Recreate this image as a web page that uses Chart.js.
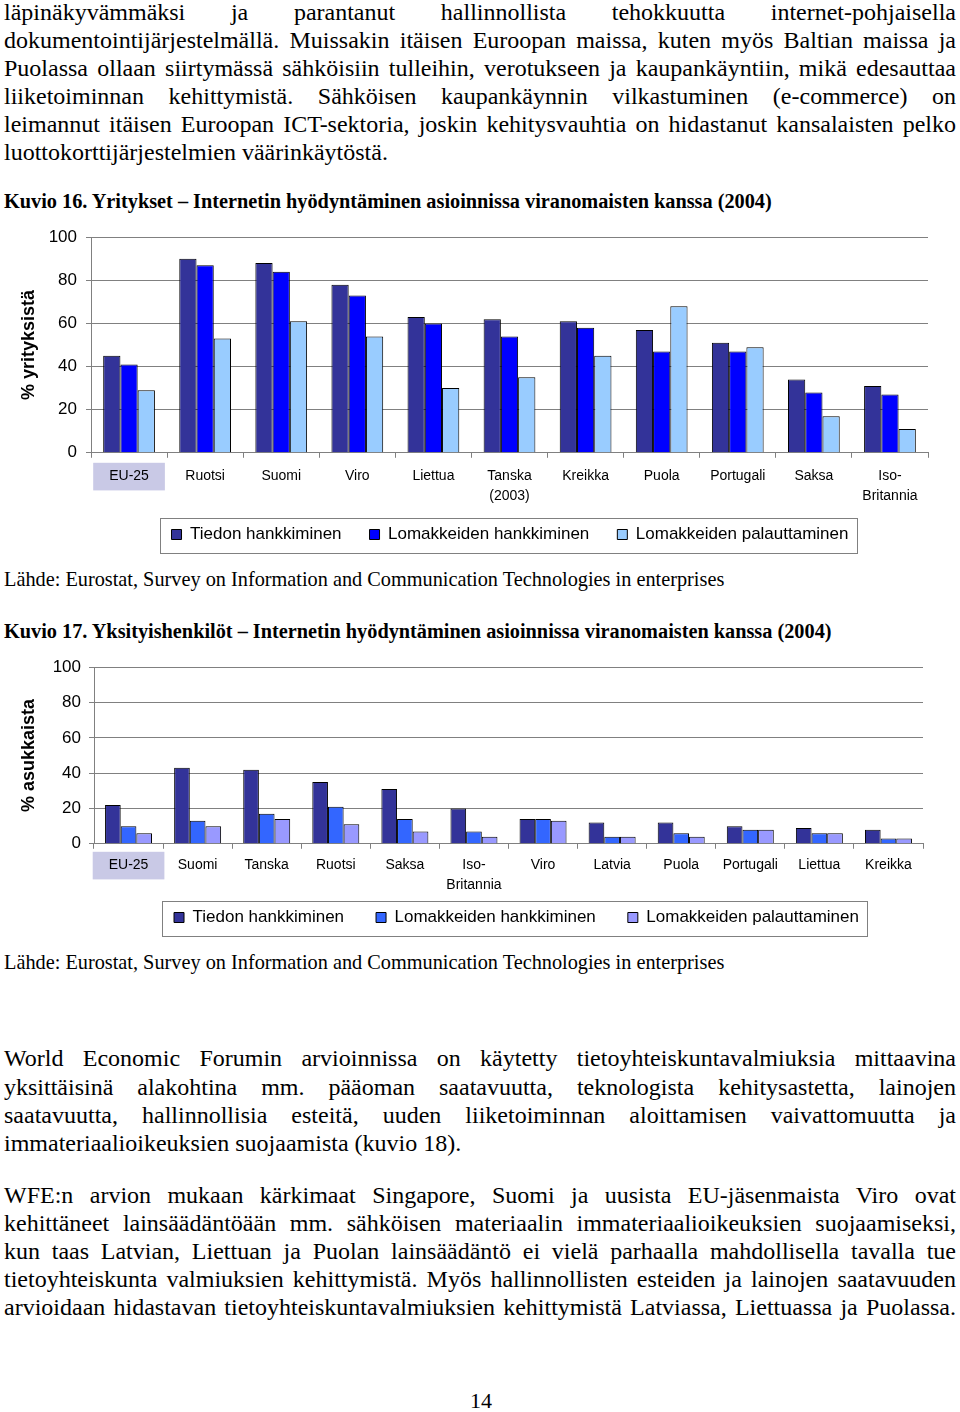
<!DOCTYPE html>
<html>
<head>
<meta charset="utf-8">
<script src="https://cdn.jsdelivr.net/npm/chart.js@4"></script>
<style>
  html, body { margin: 0; padding: 0; background: #fff; }
  #page { position: relative; width: 960px; height: 1412px; overflow: hidden; }
  .ln { position: absolute; left: 4px; width: 952px; height: 28px; line-height: 28px;
        font-family: "Liberation Serif", serif; font-size: 24px; color: #000;
        text-align: justify; text-align-last: justify; }
  .ln.last { text-align-last: left; }
  .cap { position: absolute; left: 4px; line-height: 24px; font-family: "Liberation Serif", serif;
         font-size: 20.3px; font-weight: bold; white-space: nowrap; }
  .src { position: absolute; left: 4px; line-height: 24px; font-family: "Liberation Serif", serif;
         font-size: 20.3px; white-space: nowrap; }
  .pnum { position: absolute; left: 466px; width: 30px; text-align: center; line-height: 28px;
          font-family: "Liberation Serif", serif; font-size: 22px; }
  .chartbox { position: absolute; left: 0; width: 960px; }
</style>
</head>
<body>
<div id="page">
  <div class="ln" style="top:-2px">läpinäkyvämmäksi ja parantanut hallinnollista tehokkuutta internet-pohjaisella</div>
  <div class="ln" style="top:26px">dokumentointijärjestelmällä. Muissakin itäisen Euroopan maissa, kuten myös Baltian maissa ja</div>
  <div class="ln" style="top:54px">Puolassa ollaan siirtymässä sähköisiin tulleihin, verotukseen ja kaupankäyntiin, mikä edesauttaa</div>
  <div class="ln" style="top:82px">liiketoiminnan kehittymistä. Sähköisen kaupankäynnin vilkastuminen (e-commerce) on</div>
  <div class="ln" style="top:110px">leimannut itäisen Euroopan ICT-sektoria, joskin kehitysvauhtia on hidastanut kansalaisten pelko</div>
  <div class="ln last" style="top:138px">luottokorttijärjestelmien väärinkäytöstä.</div>

  <div class="cap" style="top:189px">Kuvio 16. Yritykset – Internetin hyödyntäminen asioinnissa viranomaisten kanssa (2004)</div>
  <div class="chartbox" style="top:218px;height:345px"><canvas id="chart1"></canvas></div>
  <div class="src" style="top:567px">Lähde: Eurostat, Survey on Information and Communication Technologies in enterprises</div>

  <div class="cap" style="top:619px">Kuvio 17. Yksityishenkilöt – Internetin hyödyntäminen asioinnissa viranomaisten kanssa (2004)</div>
  <div class="chartbox" style="top:649px;height:295px"><canvas id="chart2"></canvas></div>
  <div class="src" style="top:950px">Lähde: Eurostat, Survey on Information and Communication Technologies in enterprises</div>

  <div class="ln" style="top:1044px">World Economic Forumin arvioinnissa on käytetty tietoyhteiskuntavalmiuksia mittaavina</div>
  <div class="ln" style="top:1073px">yksittäisinä alakohtina mm. pääoman saatavuutta, teknologista kehitysastetta, lainojen</div>
  <div class="ln" style="top:1101px">saatavuutta, hallinnollisia esteitä, uuden liiketoiminnan aloittamisen vaivattomuutta ja</div>
  <div class="ln last" style="top:1129px">immateriaalioikeuksien suojaamista (kuvio 18).</div>

  <div class="ln" style="top:1181px">WFE:n arvion mukaan kärkimaat Singapore, Suomi ja uusista EU-jäsenmaista Viro ovat</div>
  <div class="ln" style="top:1209px">kehittäneet lainsäädäntöään mm. sähköisen materiaalin immateriaalioikeuksien suojaamiseksi,</div>
  <div class="ln" style="top:1237px">kun taas Latvian, Liettuan ja Puolan lainsäädäntö ei vielä parhaalla mahdollisella tavalla tue</div>
  <div class="ln" style="top:1265px">tietoyhteiskunta valmiuksien kehittymistä. Myös hallinnollisten esteiden ja lainojen saatavuuden</div>
  <div class="ln" style="top:1293px">arvioidaan hidastavan tietoyhteiskuntavalmiuksien kehittymistä Latviassa, Liettuassa ja Puolassa.</div>

  <div class="pnum" style="top:1387px">14</div>
</div>

<script>
// Kuvio 16 - yritykset
const maat16 = ['EU-25', 'Ruotsi', 'Suomi', 'Viro', 'Liettua', ['Tanska', '(2003)'], 'Kreikka', 'Puola', 'Portugali', 'Saksa', ['Iso-', 'Britannia']];
const tiedonHankkiminen16 = [45, 90, 88, 78, 63, 62, 61, 57, 51, 34, 31];
const lomakkeidenHankkiminen16 = [41, 87, 84, 73, 60, 54, 58, 47, 47, 28, 27];
const lomakkeidenPalauttaminen16 = [29, 53, 61, 54, 30, 35, 45, 68, 49, 17, 11];

// Kuvio 17 - yksityishenkilöt
const maat17 = ['EU-25', 'Suomi', 'Tanska', 'Ruotsi', 'Saksa', ['Iso-', 'Britannia'], 'Viro', 'Latvia', 'Puola', 'Portugali', 'Liettua', 'Kreikka'];
const tiedonHankkiminen17 = [22, 43, 42, 35, 31, 20, 14, 12, 12, 10, 9, 8];
const lomakkeidenHankkiminen17 = [10, 13, 17, 21, 14, 7, 14, 4, 6, 8, 6, 3];
const lomakkeidenPalauttaminen17 = [6, 10, 14, 11, 7, 4, 13, 4, 4, 8, 6, 3];

const sarjat = ['Tiedon hankkiminen', 'Lomakkeiden hankkiminen', 'Lomakkeiden palauttaminen'];
const yTicks = [0, 20, 40, 60, 80, 100];

// siirretään legendaa sivuttain ja piirretään laatikko sen ympärille
const legendBox = {
  id: 'legendBox',
  afterUpdate(chart, args, opts) {
    const lg = chart.legend;
    if (!lg || !opts.dx) return;
    lg.left += opts.dx;
    lg.right += opts.dx;
    lg.legendHitBoxes.forEach(h => { h.left += opts.dx; });
  },
  afterDraw(chart) {
    const hb = chart.legend && chart.legend.legendHitBoxes;
    if (!hb || !hb.length) return;
    const ctx = chart.ctx;
    const l = Math.min(...hb.map(b => b.left)) - 12;
    const r = Math.max(...hb.map(b => b.left + b.width)) + 8;
    const c = hb[0].top + hb[0].height / 2;
    ctx.save();
    ctx.strokeStyle = '#808080';
    ctx.lineWidth = 1;
    ctx.strokeRect(Math.round(l) + 0.5, Math.round(c - 17) + 0.5, Math.round(r - l), 35);
    ctx.restore();
  }
};

function teeKaavio(id, labels, sarjaData, varit, yOtsikko, o) {
  return new Chart(document.getElementById(id), {
    type: 'bar',
    data: {
      labels: labels,
      datasets: sarjaData.map((d, i) => ({
        label: sarjat[i],
        data: d,
        backgroundColor: varit[i],
        borderColor: '#000',
        borderWidth: 1,
        categoryPercentage: 0.68,
        barPercentage: 1.0,
      })),
    },
    options: {
      responsive: true,
      maintainAspectRatio: false,
      animation: false,
      layout: { padding: { left: 0, right: o.right, top: 0, bottom: o.bottom } },
      plugins: {
        tooltip: { enabled: false },
        legendBox: { dx: o.legendDx },
        legend: {
          position: 'bottom',
          labels: {
            color: '#000',
            font: { family: 'Liberation Sans', size: 17 },
            boxWidth: 10,
            boxHeight: 10,
            padding: o.legendPad,
          },
        },
      },
      scales: {
        x: {
          // matalampi akseli, mutta tekstejä ei leikata
          afterFit: (s) => {
            s.height = s.height - o.xShrink;
            s._computeLabelArea = () => null;
          },
          grid: { display: true, drawOnChartArea: false, drawTicks: true, tickLength: 5, color: '#808080' },
          border: { color: '#808080' },
          ticks: {
            color: '#000',
            font: { family: 'Liberation Sans', size: 14, lineHeight: 1.4 },
            padding: o.xPad,
            maxRotation: 0,
            autoSkip: false,
            showLabelBackdrop: (c) => c.index === 0,
            backdropColor: '#c9c9e6',
            backdropPadding: { left: 16, right: 16, top: 4, bottom: 4 },
          },
        },
        y: {
          min: 0,
          max: 100,
          afterBuildTicks: (s) => { s.ticks = yTicks.map(v => ({ value: v })); },
          afterFit: (s) => { s.width = o.axisX; },
          grid: { color: '#808080', tickLength: 5 },
          border: { color: '#808080' },
          ticks: { color: '#000', font: { family: 'Liberation Sans', size: 17 }, padding: o.tickPad },
          title: {
            display: true,
            text: yOtsikko,
            color: '#000',
            font: { family: 'Liberation Sans', size: 18, weight: 'bold' },
            padding: { top: 18, bottom: 0 },
          },
        },
      },
    },
    plugins: [legendBox],
  });
}

teeKaavio('chart1', maat16,
  [tiedonHankkiminen16, lomakkeidenHankkiminen16, lomakkeidenPalauttaminen16],
  ['#333399', '#0000ff', '#99ccff'],
  '% yrityksistä',
  { axisX: 91, right: 32, bottom: 10, xShrink: 17, xPad: 9, tickPad: 9, legendPad: 28, legendDx: 46 });

teeKaavio('chart2', maat17,
  [tiedonHankkiminen17, lomakkeidenHankkiminen17, lomakkeidenPalauttaminen17],
  ['#333399', '#3366ff', '#9999ff'],
  '% asukkaista',
  { axisX: 94, right: 37, bottom: 8, xShrink: 25, xPad: 7, tickPad: 8, legendPad: 32, legendDx: 55 });
</script>
</body>
</html>
